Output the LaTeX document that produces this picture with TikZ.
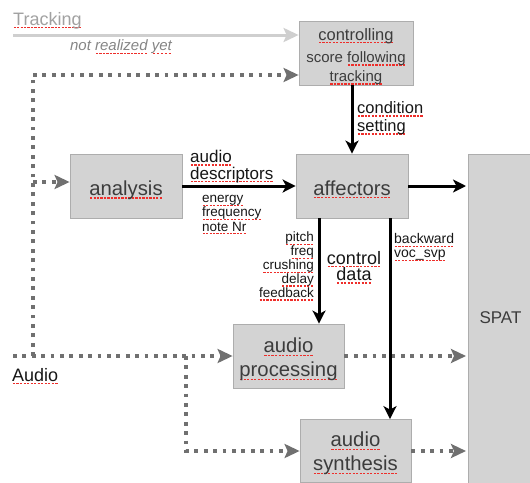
\documentclass[tikz,border=0pt]{standalone}
\usepackage{fontspec}
\setmainfont{Liberation Sans}
\usetikzlibrary{arrows.meta}
\definecolor{boxfill}{HTML}{D3D3D3}
\definecolor{boxline}{HTML}{ADADAD}
\definecolor{boxtext}{HTML}{3C3C3C}
\definecolor{dotgray}{HTML}{707070}
\definecolor{lightarr}{HTML}{CFCFCF}
\definecolor{sqred}{HTML}{EE2E2A}
\definecolor{lbltext}{HTML}{161616}
\newcommand\sq[1]{\leavevmode\setbox0=\hbox{#1}\rlap{\raisebox{-3.3pt}{\textcolor{sqred}{\hbox to \wd0{\xleaders\hbox to 3.4pt{\hss\rule{2.2pt}{1.5pt}\hss}\hfill}}}}\box0\relax}
\begin{document}
\begin{tikzpicture}[x=1pt,y=-1pt,
  box/.style={draw=boxline, fill=boxfill, line width=0.8pt, inner sep=0pt},
  boxtxt/.style={text=boxtext, align=center, inner sep=0pt, font=\fontsize{20.3}{24}\selectfont},
  lbl/.style={text=lbltext, inner sep=0pt},
  blk/.style={line width=3pt, -{Stealth[length=13pt,width=13pt,inset=3.5pt]}},
  dotln/.style={line width=3.6pt, dotgray, dash pattern=on 3.8pt off 5.6pt},
  dotarr/.style={dotln, -{Stealth[length=15pt,width=14pt,inset=3pt]}},
  lightln/.style={line width=3pt, lightarr, -{Stealth[length=15pt,width=14pt,inset=3pt]}}
]
\useasboundingbox (0,0) rectangle (530,482);

% boxes
\node[box, minimum width=114pt, minimum height=64pt] (ctrl) at (356,53) {};
\node[boxtxt, font=\fontsize{15}{19}\selectfont] (ctrltxt) at (356,56.5)
  {{\fontsize{16.5}{20}\selectfont\sq{controlling}}\\[3.5pt]
   score \sq{following}\\
   \sq{tracking}};
\node[box, minimum width=112pt, minimum height=64pt] (ana) at (126,186) {};
\node[boxtxt] (anatxt) at (126,190) {\sq{analysis}};
\node[box, minimum width=112pt, minimum height=64pt] (aff) at (352,186) {};
\node[boxtxt] (afftxt) at (352,189.5) {\sq{affectors}};
\node[box, minimum width=111pt, minimum height=64pt] (proc) at (288.5,356) {};
\node[boxtxt] (proctxt) at (288.5,359.5) {\sq{audio}\\\sq{processing}};
\node[box, minimum width=111pt, minimum height=63pt] (syn) at (355.5,451) {};
\node[boxtxt] (syntxt) at (355.5,453.5) {\sq{audio}\\\sq{synthesis}};
\node[box, minimum width=80pt, minimum height=340pt, anchor=north west] (spat) at (468,154) {};
\node[text=boxtext, inner sep=0pt, font=\fontsize{17}{20}\selectfont] (spatlbl) at (500.5,318) {SPAT};

% labels
\node[anchor=base west, inner sep=0pt, text=black!37, font=\fontsize{18}{20}\selectfont] (trk) at (13,25) {\sq{Tracking}};
\node[inner sep=0pt, text=black!48, font=\fontsize{15}{18}\selectfont\itshape] (nry) at (121,47) {not \sq{realized} \sq{yet}};
\node[lbl, anchor=base west, font=\fontsize{18}{20}\selectfont] (aud) at (12,381) {\sq{Audio}};
\node[lbl, anchor=west, align=left, font=\fontsize{16.5}{18}\selectfont] (cs) at (357,118) {\sq{condition}\\\sq{setting}};
\node[lbl, anchor=west, align=left, font=\fontsize{17}{16.5}\selectfont] (ad) at (190,166.5) {\sq{audio}\\\sq{descriptors}};
\node[lbl, anchor=west, align=left, font=\fontsize{13.5}{14.2}\selectfont] (efn) at (202,215) {\sq{energy}\\\sq{frequency}\\\sq{note Nr}};
\node[lbl, anchor=east, align=right, font=\fontsize{13.5}{13.9}\selectfont] (pf) at (314,266.5) {\sq{pitch}\\\sq{freq}\\\sq{crushing}\\\sq{delay}\\\sq{feedback}};
\node[lbl, align=center, font=\fontsize{18}{16.5}\selectfont] (cd) at (354,267.5) {\sq{control}\\\sq{data}};
\node[lbl, anchor=west, align=left, font=\fontsize{14}{14}\selectfont] (bv) at (394,247.5) {\sq{backward}\\\sq{voc\_svp}};

% coordinates
\coordinate (tr) at (13,35);
\coordinate (au) at (13,356);
\coordinate (v1) at (33,356);
\coordinate (v2) at (33,75);
\coordinate (v3) at (33,182);
\coordinate (b1) at (186,356);
\coordinate (c1) at (319,0);
\coordinate (c2) at (390,0);

% light tracking arrow
\draw[lightln] (tr) -- (tr -| ctrl.west);

% dotted audio paths
\draw[dotln] (v1) -- (v2);
\draw[dotarr] (v2) -- (v2 -| ctrl.west);
\draw[dotarr] (v3) -- (v3 -| ana.west);
\draw[dotarr] (au) -- (proc.west);
\draw[dotarr] (b1) |- (syn.west);
\draw[dotarr, shorten >=2pt] (proc.east) -- (proc.east -| spat.west);
\draw[dotarr, shorten >=2pt] (syn.east) -- (syn.east -| spat.west);

% black arrows
\draw[blk] (ctrl.south -| aff.north) -- (aff.north);
\draw[blk] (ana.east) -- (aff.west);
\draw[blk, shorten >=2pt] (aff.east) -- (aff.east -| spat.west);
\draw[blk] (aff.south -| c1) -- (proc.north -| c1);
\draw[blk] (aff.south -| c2) -- (syn.north -| c2);
\end{tikzpicture}
\end{document}
